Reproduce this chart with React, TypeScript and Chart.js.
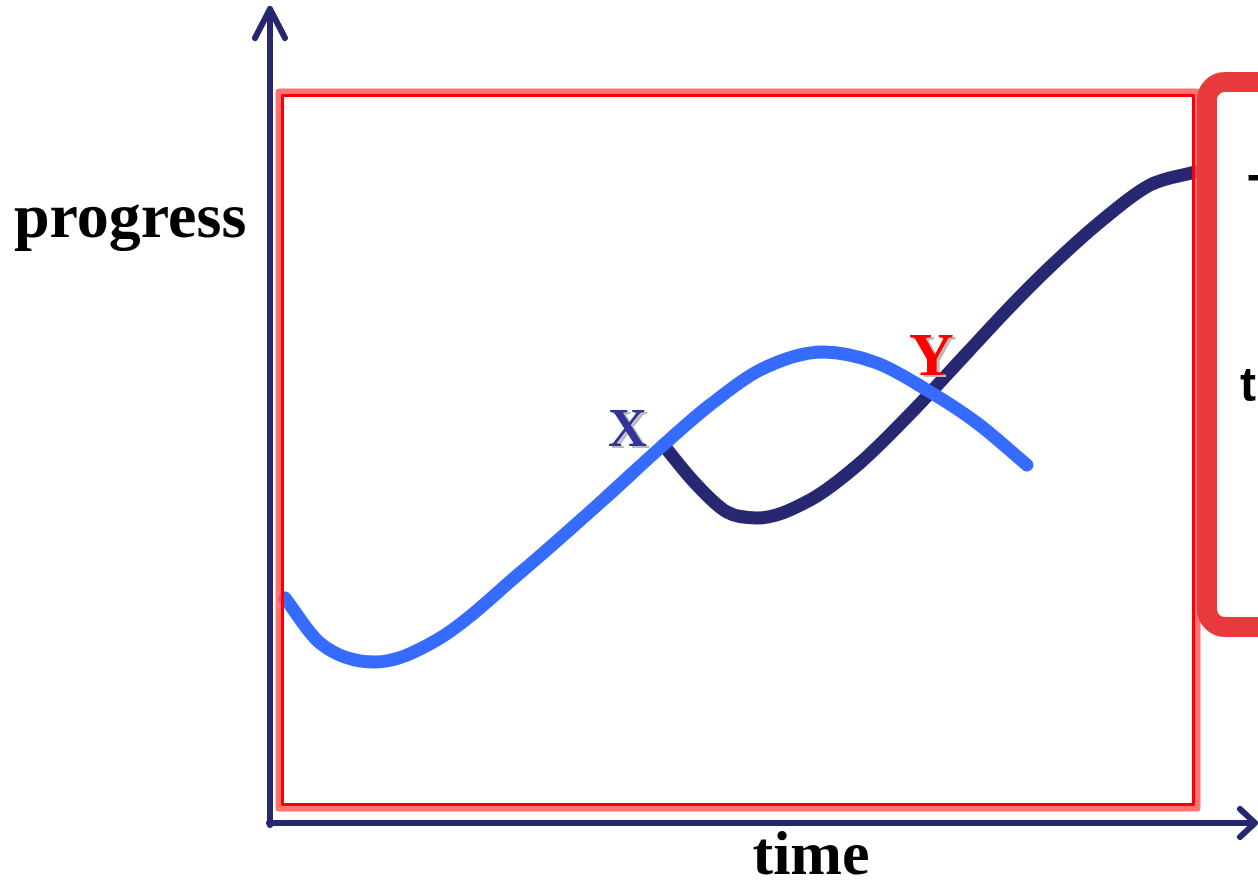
import React, { useEffect, useRef } from "react";
import { Chart, registerables } from "chart.js";

Chart.register(...registerables);

// Conceptual diagram: progress over time (arbitrary units, 0..100)
const firstTime = [1.63, 5.43, 11.41, 18.15, 27.17, 36.2, 42.39, 47.83, 53.26, 60.11, 65.98, 71.41, 76.85, 82.28];
const firstProgress = [30.91, 24.73, 22.12, 25.14, 34.34, 44.37, 51.51, 57.42, 62.23, 64.7, 63.19, 59.48, 54.95, 49.18];

const secondTime = [42.93, 46.2, 49.67, 52.93, 58.7, 64.13, 69.57, 75.76, 80.43, 84.78, 90.22, 95.65, 100.54];
const secondProgress = [51.65, 46.7, 42.72, 41.9, 44.37, 49.45, 56.18, 64.56, 70.88, 76.37, 82.55, 87.64, 89.42];

const xLabel = "time";
const yLabel = "progress";
const markLabels = ["X", "Y"];

const W = 1258;
const H = 881;

const diagramPlugin = {
  id: "diagram",
  afterDatasetsDraw(chart: any) {
    const ctx = chart.ctx;
    const xs = chart.scales.x;
    const ys = chart.scales.y;
    const ox = xs.getPixelForValue(0);
    const oy = ys.getPixelForValue(0);
    ctx.save();

    // red frame with glow
    ctx.lineJoin = "round";
    ctx.strokeStyle = "rgba(255,80,80,0.8)";
    ctx.lineWidth = 7;
    ctx.strokeRect(279, 92, 918, 716);
    ctx.strokeStyle = "#ff0000";
    ctx.lineWidth = 3;
    ctx.strokeRect(282.5, 95.5, 911, 709);

    // right rounded box (partly off canvas)
    ctx.strokeStyle = "#e8393c";
    ctx.lineWidth = 20;
    ctx.beginPath();
    const bx = 1207, by = 82, bw = 200, bh = 545, r = 18;
    ctx.moveTo(bx + r, by);
    ctx.lineTo(bx + bw, by);
    ctx.lineTo(bx + bw, by + bh);
    ctx.lineTo(bx + r, by + bh);
    ctx.arcTo(bx, by + bh, bx, by + bh - r, r);
    ctx.lineTo(bx, by + r);
    ctx.arcTo(bx, by, bx + r, by, r);
    ctx.closePath();
    ctx.stroke();
    ctx.fillStyle = "#000";
    ctx.font = "bold 48px 'Liberation Sans', Arial, sans-serif";
    ctx.textBaseline = "alphabetic";
    ctx.textAlign = "left";
    ctx.fillText("T", 1248, 208);
    ctx.fillText("t", 1240, 401);

    // axes
    ctx.strokeStyle = "#27276f";
    ctx.lineWidth = 6;
    ctx.lineCap = "round";
    ctx.lineJoin = "round";
    ctx.beginPath();
    ctx.moveTo(ox, oy + 2);
    ctx.lineTo(ox, 10);
    ctx.moveTo(ox - 1, oy);
    ctx.lineTo(1254, oy);
    ctx.stroke();
    ctx.beginPath();
    ctx.moveTo(ox - 15, 38);
    ctx.lineTo(ox, 9);
    ctx.lineTo(ox + 15, 38);
    ctx.stroke();
    ctx.beginPath();
    ctx.moveTo(1240, oy - 14);
    ctx.lineTo(1255, oy);
    ctx.lineTo(1240, oy + 14);
    ctx.stroke();

    // axis titles
    ctx.fillStyle = "#000";
    ctx.font = "bold 64px 'Liberation Serif', 'Times New Roman', serif";
    ctx.textAlign = "left";
    ctx.fillText(yLabel, 14, 237);
    ctx.font = "bold 62px 'Liberation Serif', 'Times New Roman', serif";
    ctx.textAlign = "center";
    ctx.fillText(xLabel, 811, 874);

    // point labels with shadow
    ctx.textAlign = "left";
    ctx.font = "bold 54px 'Liberation Serif', 'Times New Roman', serif";
    ctx.fillStyle = "#bbbbbb";
    ctx.fillText(markLabels[0], 611, 448);
    ctx.fillStyle = "#333399";
    ctx.fillText(markLabels[0], 608, 446);
    ctx.font = "bold 62px 'Liberation Serif', 'Times New Roman', serif";
    ctx.fillStyle = "#bbbbbb";
    ctx.fillText(markLabels[1], 912, 377);
    ctx.fillStyle = "#ff0000";
    ctx.fillText(markLabels[1], 909, 375);

    ctx.restore();
  },
};

export default function App() {
  const ref = useRef<HTMLCanvasElement | null>(null);
  useEffect(() => {
    if (!ref.current) return;
    const chart = new Chart(ref.current, {
      type: "line",
      data: {
        datasets: [
          {
            data: firstTime.map((t, i) => ({ x: t, y: firstProgress[i] })),
            borderColor: "#366bff",
            borderWidth: 13,
            borderCapStyle: "round",
            borderJoinStyle: "round",
            pointRadius: 0,
            cubicInterpolationMode: "monotone",
            fill: false,
          },
          {
            data: secondTime.map((t, i) => ({ x: t, y: secondProgress[i] })),
            borderColor: "#282872",
            borderWidth: 13,
            borderCapStyle: "round",
            borderJoinStyle: "round",
            pointRadius: 0,
            cubicInterpolationMode: "monotone",
            fill: false,
          },
        ],
      },
      options: {
        animation: false,
        responsive: false,
        devicePixelRatio: 1,
        layout: { padding: 0 },
        plugins: { legend: { display: false }, tooltip: { enabled: false }, title: { display: false } },
        scales: {
          x: { type: "linear", display: false, min: -270 / 9.2, max: 988 / 9.2 },
          y: { type: "linear", display: false, min: -58 / 7.28, max: 823 / 7.28 },
        },
      },
      plugins: [diagramPlugin],
    });
    return () => chart.destroy();
  }, []);
  return (
    <div style={{ position: "fixed", left: 0, top: 0, width: W, height: H, background: "#fff" }}>
      <canvas ref={ref} width={W} height={H} style={{ display: "block", width: W, height: H }} />
    </div>
  );
}
